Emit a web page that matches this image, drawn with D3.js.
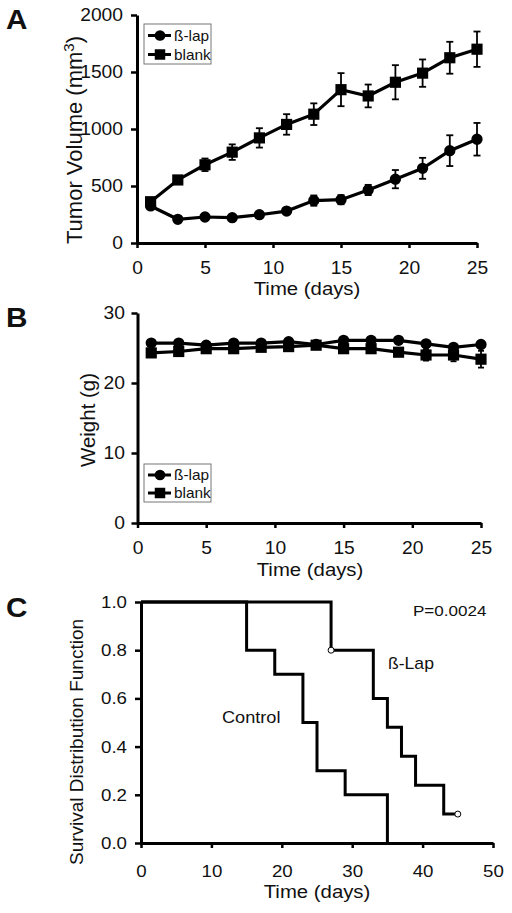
<!DOCTYPE html>
<html><head><meta charset="utf-8">
<script src="https://cdn.jsdelivr.net/npm/d3@7"></script>
<style>
html,body{margin:0;padding:0;background:#fff;}
svg{display:block;}
text{font-family:"Liberation Sans",Arial,sans-serif;fill:#111;}
</style></head>
<body>
<svg id="c" width="512" height="913"></svg>
<script>
// ---------- DATA ----------
const days = [1,3,5,7,9,11,13,15,17,19,21,23,25];
const tumorLap      = [325,208,228,222,248,280,372,380,465,560,655,810,910];
const tumorLapErr   = [22,15,18,18,22,25,45,40,45,80,92,135,143];
const tumorBlank    = [362,553,686,797,922,1040,1130,1345,1290,1410,1490,1625,1700];
const tumorBlankErr = [30,25,55,68,85,90,95,145,100,150,120,140,155];
const weightLap      = [25.7,25.7,25.4,25.7,25.7,25.9,25.5,26.1,26.1,26.1,25.6,25.1,25.5];
const weightLapErr   = [0.3,0.3,0.3,0.3,0.3,0.3,0.3,0.3,0.3,0.3,0.3,0.4,0.4];
const weightBlank    = [24.3,24.5,24.9,24.9,25.1,25.2,25.4,24.9,24.9,24.4,24.0,24.0,23.4];
const weightBlankErr = [0.3,0.3,0.3,0.3,0.3,0.3,0.3,0.4,0.4,0.5,0.8,0.9,1.2];
const seriesNames = ["ß-lap","blank"];
const ticksA_x = [0,5,10,15,20,25];
const ticksA_y = [0,500,1000,1500,2000];
const ticksB_y = [0,10,20,30];
const ticksC_x = [0,10,20,30,40,50];
const ticksC_y = [0,0.2,0.4,0.6,0.8,1.0];
const controlTimes = [0,15,19,23,25,29,35,35];
const controlSurv  = [1,0.8,0.7,0.5,0.3,0.2,0,0];
const lapTimes = [0,27,33,35,37,39,43,45];
const lapSurv  = [1,0.8,0.6,0.48,0.36,0.24,0.12,0.12];
const censoredTimes = [27,45];
const censoredSurv  = [0.8,0.12];

const svg = d3.select("#c");
const FONT = '"Liberation Sans",Arial,sans-serif';
const SX = 1.1; // horizontal stretch of the reference's lettering

function htext(x,y,str,size,anchor,bold){
  const t = svg.append("text").attr("transform",`translate(${x},${y}) scale(${SX},1)`)
    .attr("text-anchor",anchor||"start").style("font-size",size+"px").text(str);
  if(bold) t.style("font-weight","bold");
  return t;
}

function styleAxis(g, tickFont, isY){
  g.select(".domain").attr("stroke","#000").attr("stroke-width",3);
  g.selectAll(".tick line").attr("stroke","#000").attr("stroke-width",2.5);
  const tx = g.selectAll(".tick text").attr("fill","#111").style("font-size",tickFont+"px").style("font-family",FONT)
    .attr("transform",`scale(${SX},1)`);
  if(isY) tx.attr("x",function(){return (+d3.select(this).attr("x"))/SX;});
}

function panelXY(opts){
  const x = d3.scaleLinear().domain(opts.xd).range(opts.xr);
  const y = d3.scaleLinear().domain(opts.yd).range(opts.yr);
  const gx = svg.append("g").attr("transform",`translate(0,${opts.yr[0]})`)
    .call(d3.axisBottom(x).tickValues(opts.xt).tickFormat(opts.xf||d3.format("d")).tickSize(5).tickPadding(opts.xpad).tickSizeOuter(0));
  styleAxis(gx, opts.font, false);
  const gy = svg.append("g").attr("transform",`translate(${opts.xr[0]},0)`)
    .call(d3.axisLeft(y).tickValues(opts.yt).tickFormat(opts.yf||d3.format("d")).tickSize(6).tickPadding(opts.ypad).tickSizeOuter(0));
  styleAxis(gy, opts.font, true);
  return {x,y};
}

function drawSeries(sc, vals, errs, shape, capW){
  const pts = days.map((d,i)=>({d, v:vals[i], e:errs[i]}));
  const g = svg.append("g");
  g.selectAll("g.err").data(pts).join("g").attr("class","err").each(function(p){
    const s = d3.select(this);
    const cx = sc.x(p.d), y1 = sc.y(p.v+p.e), y2 = sc.y(p.v-p.e);
    s.append("line").attr("x1",cx).attr("x2",cx).attr("y1",y1).attr("y2",y2).attr("stroke","#000").attr("stroke-width",1.8);
    s.append("line").attr("x1",cx-capW).attr("x2",cx+capW).attr("y1",y1).attr("y2",y1).attr("stroke","#000").attr("stroke-width",1.8);
    s.append("line").attr("x1",cx-capW).attr("x2",cx+capW).attr("y1",y2).attr("y2",y2).attr("stroke","#000").attr("stroke-width",1.8);
  });
  g.append("path").datum(pts).attr("fill","none").attr("stroke","#000").attr("stroke-width",3.2)
    .attr("d", d3.line().x(p=>sc.x(p.d)).y(p=>sc.y(p.v)));
  const sym = d3.symbol().type(shape==="circle"?d3.symbolCircle:d3.symbolSquare).size(shape==="circle"?100:125);
  g.selectAll("path.m").data(pts).join("path").attr("class","m")
    .attr("transform",p=>`translate(${sc.x(p.d)},${sc.y(p.v)})`).attr("d",sym).attr("fill","#000");
}

function legend(x0,y0,w,h,rows){
  const g = svg.append("g");
  g.append("rect").attr("x",x0).attr("y",y0).attr("width",w).attr("height",h).attr("fill","#fff").attr("stroke","#777").attr("stroke-width",1);
  seriesNames.forEach((n,i)=>{
    const yy = rows[i];
    g.append("line").attr("x1",x0+4).attr("x2",x0+27).attr("y1",yy).attr("y2",yy).attr("stroke","#000").attr("stroke-width",3);
    const sym = d3.symbol().type(i===0?d3.symbolCircle:d3.symbolSquare).size(i===0?90:110);
    g.append("path").attr("transform",`translate(${x0+16},${yy})`).attr("d",sym).attr("fill","#000");
    htext(x0+30, yy+5, n, 14);
  });
}

// ---------- Panel A ----------
const A = panelXY({xd:[0,25], xr:[137,477], yd:[0,2000], yr:[243,15], xt:ticksA_x, yt:ticksA_y, font:17.5, xpad:14, ypad:8});
drawSeries(A, tumorBlank, tumorBlankErr, "square", 3.5);
drawSeries(A, tumorLap, tumorLapErr, "circle", 3.5);
legend(144,24,67,40,[35.5,54.5]);
htext(6,29,"A",27,"start",true);
htext(307,294.5,"Time (days)",18.5,"middle");
const ta = svg.append("text").attr("transform","translate(82,140) rotate(-90)").attr("text-anchor","middle").style("font-size","22px");
ta.append("tspan").text("Tumor Volume (mm");
ta.append("tspan").attr("dy","-8").style("font-size","15px").text("3");
ta.append("tspan").attr("dy","8").text(")");

// ---------- Panel B ----------
const B = panelXY({xd:[0,25], xr:[137.5,481], yd:[0,30], yr:[523,313], xt:ticksA_x, yt:ticksB_y, font:17.5, xpad:14, ypad:6.5});
drawSeries(B, weightBlank, weightBlankErr, "square", 3);
drawSeries(B, weightLap, weightLapErr, "circle", 3);
legend(144,464,67,38,[475,493]);
htext(6,327,"B",27,"start",true);
htext(310,576,"Time (days)",18.5,"middle");
svg.append("text").attr("transform","translate(95,420) rotate(-90)").attr("text-anchor","middle").style("font-size","20.5px").text("Weight (g)");

// ---------- Panel C ----------
const C = panelXY({xd:[0,50], xr:[141,493], yd:[0,1], yr:[843,602], xt:ticksC_x, yt:ticksC_y, font:17, xpad:16.5, ypad:8, yf:d3.format(".1f")});
const step = d3.line().x(d=>C.x(d[0])).y(d=>C.y(d[1])).curve(d3.curveStepAfter);
svg.append("path").datum(controlTimes.map((t,i)=>[t,controlSurv[i]])).attr("fill","none").attr("stroke","#000").attr("stroke-width",3).attr("d",step);
svg.append("path").datum(lapTimes.map((t,i)=>[t,lapSurv[i]])).attr("fill","none").attr("stroke","#000").attr("stroke-width",3).attr("d",step);
svg.selectAll("circle.cens").data(censoredTimes.map((t,i)=>[t,censoredSurv[i]])).join("circle").attr("class","cens")
  .attr("cx",d=>C.x(d[0])).attr("cy",d=>C.y(d[1])).attr("r",3).attr("fill","#fff").attr("stroke","#000").attr("stroke-width",1);
htext(6,617,"C",27,"start",true);
htext(413,616,"P=0.0024",15.5);
htext(388,669,"ß-Lap",16);
htext(222,723,"Control",16.5);
htext(317,898,"Time (days)",18.5,"middle");
svg.append("text").attr("transform","translate(83,742) rotate(-90)").attr("text-anchor","middle").style("font-size","19px").text("Survival Distribution Function");
</script>
</body></html>
